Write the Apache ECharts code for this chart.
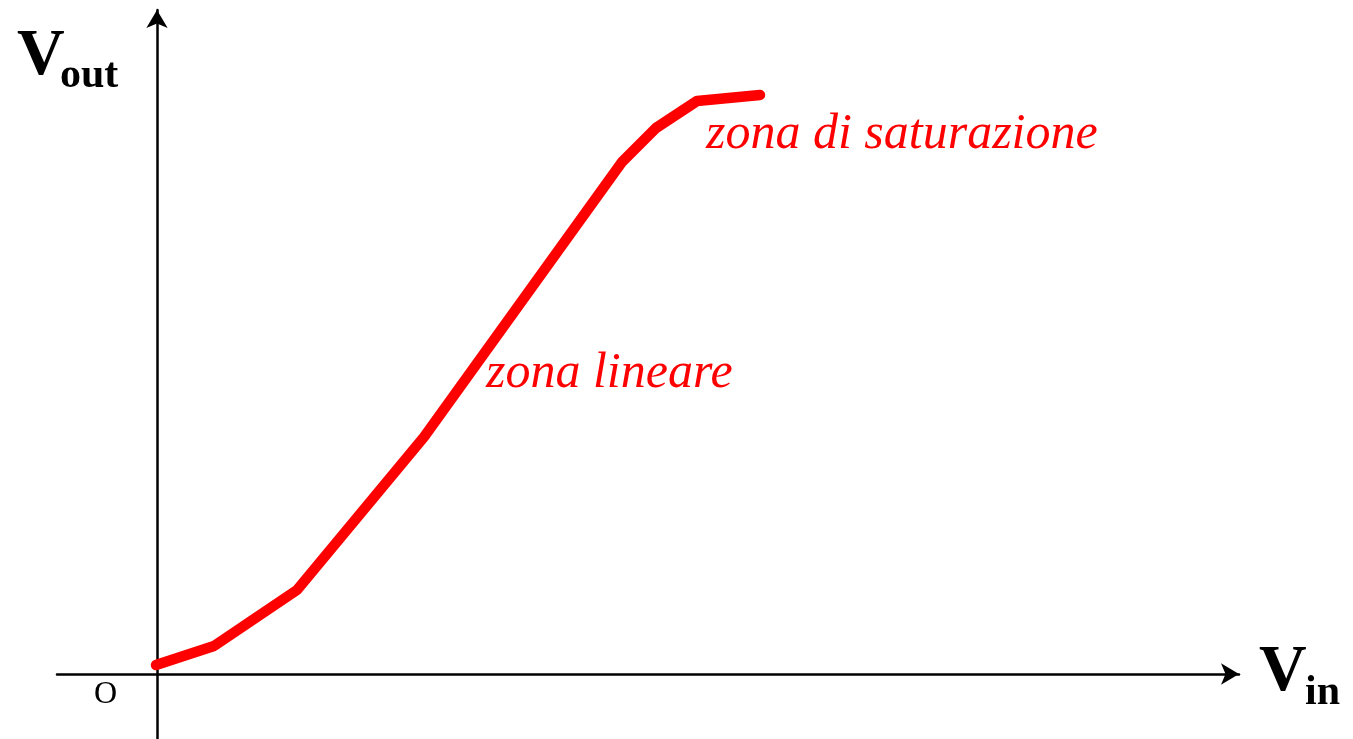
<!DOCTYPE html>
<html>
<head>
<meta charset="utf-8">
<script src="https://cdn.jsdelivr.net/npm/echarts@6/dist/echarts.min.js"></script>
<style>
html,body{margin:0;padding:0;background:#fff;}
#chart{width:1353px;height:739px;}
</style>
</head>
<body>
<div id="chart"></div>
<script>
// Transfer characteristic (arbitrary units, origin at O)
const vin = [-0.01, 0.57, 1.40, 2.67, 4.65, 4.99, 5.40, 6.03];
const vout = [0.09, 0.28, 0.84, 2.37, 5.12, 5.46, 5.73, 5.79];
const labels = {
  yName: 'V', ySub: 'out',
  xName: 'V', xSub: 'in',
  origin: 'O',
  linear: 'zona lineare',
  saturation: 'zona di saturazione'
};

const chart = echarts.init(document.getElementById('chart'));
const serif = '"Liberation Serif","Times New Roman",serif';
chart.setOption({
  animation: false,
  grid: {left: 57, width: 1182, top: 10, height: 729, containLabel: false},
  xAxis: {
    type: 'value', min: -1.0, max: 10.82,
    axisLine: {onZero: true, symbol: ['none', 'arrow'], symbolSize: [16, 18], symbolOffset: [0, 0],
      lineStyle: {color: '#000', width: 2.5}},
    axisTick: {show: false}, axisLabel: {show: false}, splitLine: {show: false}
  },
  yAxis: {
    type: 'value', min: -0.65, max: 6.64,
    axisLine: {onZero: true, symbol: ['none', 'arrow'], symbolSize: [16, 18], symbolOffset: [0, 0],
      lineStyle: {color: '#000', width: 2.5}},
    axisTick: {show: false}, axisLabel: {show: false}, splitLine: {show: false}
  },
  series: [{
    type: 'line',
    data: vin.map((x, i) => [x, vout[i]]),
    showSymbol: false, symbol: 'none',
    lineStyle: {color: '#ff0000', width: 10.5, cap: 'round', join: 'round'},
    z: 3
  }],
  graphic: [
    {type: 'text', left: 17, top: 24, style: {text: labels.yName, font: 'bold 66px ' + serif, fill: '#000'}},
    {type: 'text', left: 60, top: 55, style: {text: labels.ySub, font: 'bold 42px ' + serif, fill: '#000'}},
    {type: 'text', left: 1259, top: 640, style: {text: labels.xName, font: 'bold 66px ' + serif, fill: '#000'}},
    {type: 'text', left: 1305, top: 672, style: {text: labels.xSub, font: 'bold 42px ' + serif, fill: '#000'}},
    {type: 'text', left: 94, top: 679, style: {text: labels.origin, font: '32px ' + serif, fill: '#000'}},
    {type: 'text', left: 706, top: 110, style: {text: labels.saturation, font: 'italic 50px ' + serif, fill: '#ff0000'}},
    {type: 'text', left: 486, top: 349, style: {text: labels.linear, font: 'italic 50px ' + serif, fill: '#ff0000'}}
  ]
});
</script>
</body>
</html>
